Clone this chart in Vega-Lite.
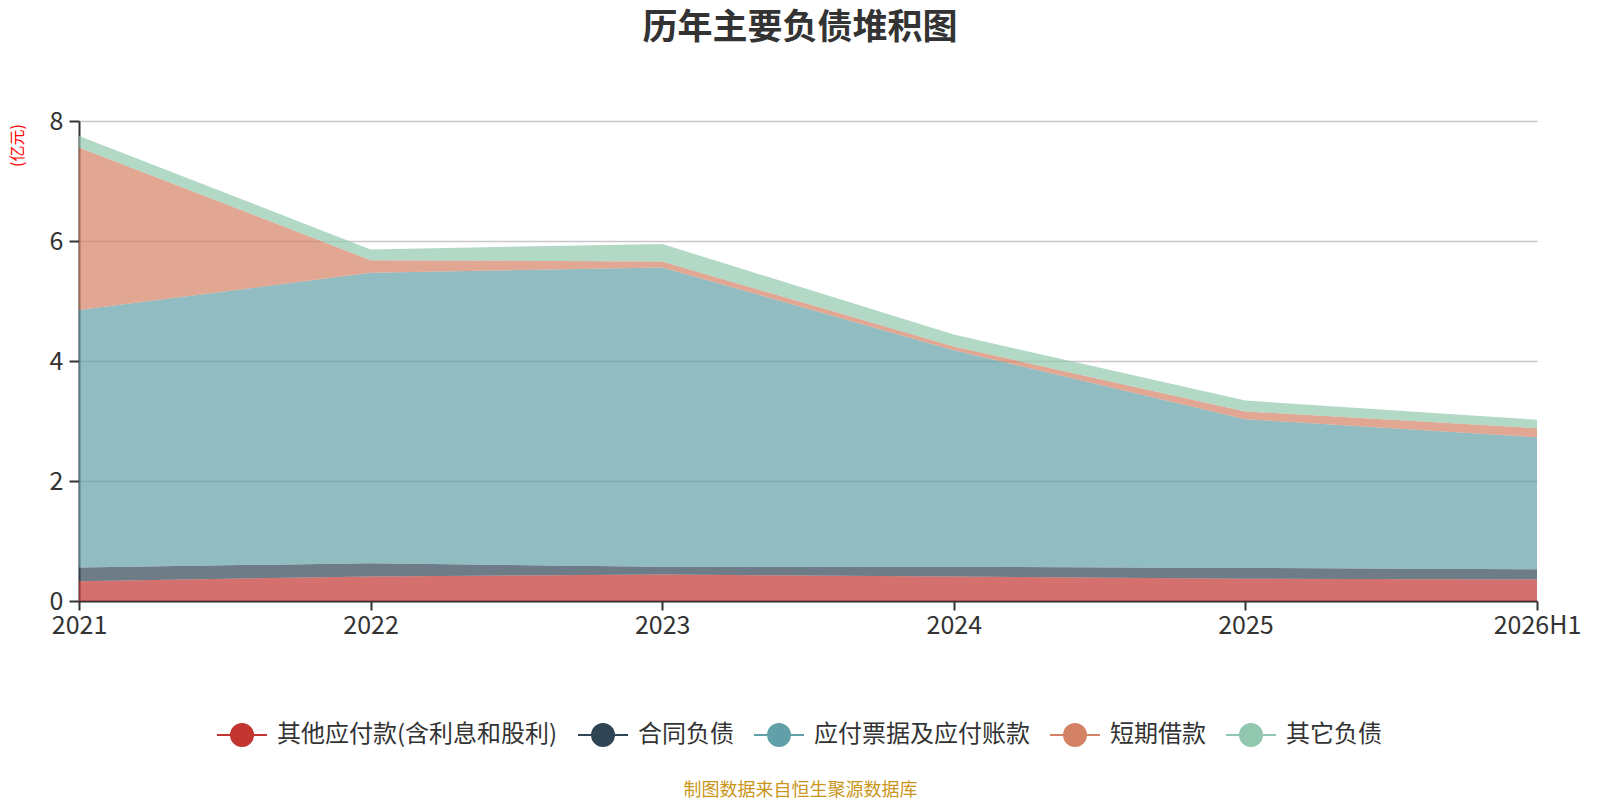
{
  "$schema": "https://vega.github.io/schema/vega-lite/v6.json",
  "autosize": {"type": "none"},
  "width": 1458,
  "height": 480,
  "padding": {"left": 79, "top": 121, "right": 63, "bottom": 199},
  "background": "white",
  "config": {"font": "Noto Sans CJK SC", "view": {"stroke": null}},
  "title": {"text": "历年主要负债堆积图", "font": "Noto Sans CJK SC", "fontSize": 35, "fontWeight": "bold", "color": "#333333", "anchor": "middle", "frame": "group", "offset": 63, "dx": -8},
  "data": {"values": [
    {"year": "2021", "item": "其他应付款(含利息和股利)", "value": 0.33},
    {"year": "2021", "item": "合同负债", "value": 0.23},
    {"year": "2021", "item": "应付票据及应付账款", "value": 4.29},
    {"year": "2021", "item": "短期借款", "value": 2.71},
    {"year": "2021", "item": "其它负债", "value": 0.19},
    {"year": "2022", "item": "其他应付款(含利息和股利)", "value": 0.41},
    {"year": "2022", "item": "合同负债", "value": 0.22},
    {"year": "2022", "item": "应付票据及应付账款", "value": 4.84},
    {"year": "2022", "item": "短期借款", "value": 0.21},
    {"year": "2022", "item": "其它负债", "value": 0.18},
    {"year": "2023", "item": "其他应付款(含利息和股利)", "value": 0.44},
    {"year": "2023", "item": "合同负债", "value": 0.13},
    {"year": "2023", "item": "应付票据及应付账款", "value": 4.99},
    {"year": "2023", "item": "短期借款", "value": 0.10},
    {"year": "2023", "item": "其它负债", "value": 0.29},
    {"year": "2024", "item": "其他应付款(含利息和股利)", "value": 0.41},
    {"year": "2024", "item": "合同负债", "value": 0.16},
    {"year": "2024", "item": "应付票据及应付账款", "value": 3.61},
    {"year": "2024", "item": "短期借款", "value": 0.06},
    {"year": "2024", "item": "其它负债", "value": 0.20},
    {"year": "2025", "item": "其他应付款(含利息和股利)", "value": 0.37},
    {"year": "2025", "item": "合同负债", "value": 0.18},
    {"year": "2025", "item": "应付票据及应付账款", "value": 2.48},
    {"year": "2025", "item": "短期借款", "value": 0.13},
    {"year": "2025", "item": "其它负债", "value": 0.18},
    {"year": "2026H1", "item": "其他应付款(含利息和股利)", "value": 0.36},
    {"year": "2026H1", "item": "合同负债", "value": 0.17},
    {"year": "2026H1", "item": "应付票据及应付账款", "value": 2.20},
    {"year": "2026H1", "item": "短期借款", "value": 0.15},
    {"year": "2026H1", "item": "其它负债", "value": 0.14}
  ]},
  "transform": [
    {"calculate": "indexof(['其他应付款(含利息和股利)', '合同负债', '应付票据及应付账款', '短期借款', '其它负债'], datum.item)", "as": "rank"}
  ],
  "mark": {"type": "area", "opacity": 0.7},
  "encoding": {
    "x": {
      "field": "year", "type": "ordinal", "sort": null,
      "scale": {"type": "point", "padding": 0},
      "axis": {
        "labelAngle": 0, "labelFontSize": 25, "labelColor": "#333333", "labelPadding": 3,
        "domainColor": "#333333", "domainWidth": 2, "tickColor": "#333333", "tickWidth": 2, "tickSize": 9,
        "grid": false,
        "title": "制图数据来自恒生聚源数据库", "titleColor": "#c9961a", "titleFontSize": 18, "titleFontWeight": "normal",
        "titleX": 721, "titleY": 189, "titleAlign": "center", "titleBaseline": "middle"
      }
    },
    "y": {
      "field": "value", "type": "quantitative", "stack": "zero",
      "scale": {"domain": [0, 8], "nice": false, "zero": true},
      "axis": {
        "values": [0, 2, 4, 6, 8], "labelFontSize": 25, "labelColor": "#333333", "labelPadding": 6,
        "domainColor": "#333333", "domainWidth": 2, "tickColor": "#333333", "tickWidth": 2, "tickSize": 10,
        "grid": true, "gridColor": "#c8c8c8", "gridWidth": 1.5,
        "title": "(亿元)", "titleColor": "#ff0000", "titleFontSize": 16, "titleFontWeight": "normal",
        "titleAngle": 270, "titleX": -62, "titleY": 24, "titleAlign": "center", "titleBaseline": "middle"
      }
    },
    "order": {"field": "rank", "type": "quantitative", "sort": "ascending"},
    "color": {
      "field": "item", "type": "nominal",
      "sort": ["其他应付款(含利息和股利)", "合同负债", "应付票据及应付账款", "短期借款", "其它负债"],
      "scale": {
        "domain": ["其他应付款(含利息和股利)", "合同负债", "应付票据及应付账款", "短期借款", "其它负债"],
        "range": ["#c23531", "#2f4554", "#61a0a8", "#d48265", "#91c7ae"]
      },
      "legend": {
        "title": null, "orient": "none", "direction": "horizontal", "legendX": 137, "legendY": 588,
        "symbolType": "M-1,0H1M0.44,0A0.44,0.44,0,1,1,-0.44,0A0.44,0.44,0,1,1,0.44,0Z",
        "symbolSize": 2500, "symbolStrokeWidth": 2, "symbolOpacity": 1,
        "labelFontSize": 24, "labelColor": "#333333", "labelOffset": 9, "columnPadding": 16,
        "labelLimit": 500,
        "encode": {"symbols": {"update": {"stroke": {"scale": "color", "field": "value"}, "strokeWidth": {"value": 2}, "opacity": {"value": 1}}}}
      }
    }
  }
}
